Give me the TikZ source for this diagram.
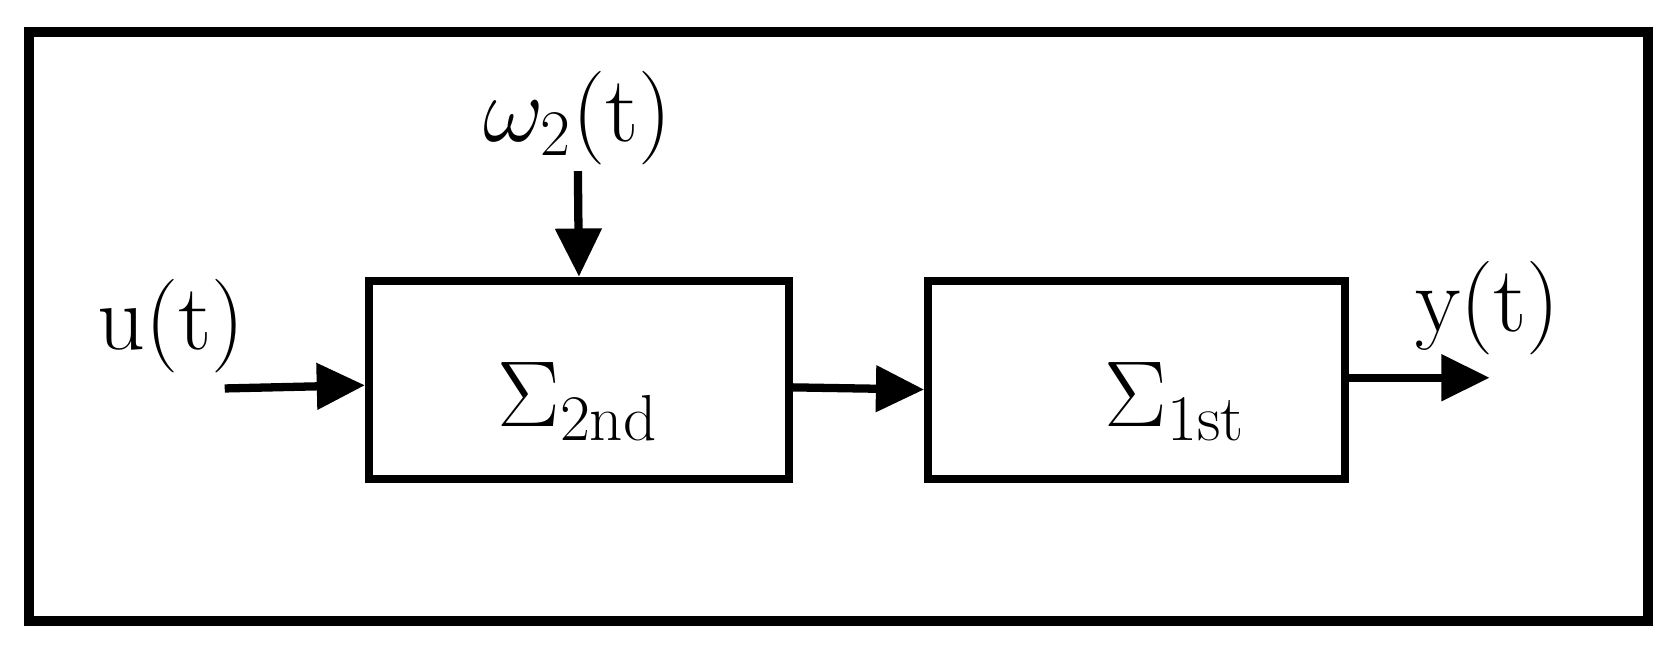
\documentclass[tikz,border=0pt]{standalone}
\usetikzlibrary{arrows.meta}
\begin{document}
\begin{tikzpicture}[x=0.01cm,y=-0.01cm,
  blk/.style={draw,line width=2.2pt,inner sep=0pt},
  arr/.style={line width=2.2pt,-{Triangle[length=0.45cm,width=0.42cm]}},
  lbl/.style={font=\fontsize{23}{26}\selectfont}]
\useasboundingbox (0,0) rectangle (1568,607);
\draw[line width=2.6pt] (27,30) rectangle (1540,580);
\node[blk,minimum width=3.92cm,minimum height=1.85cm] (b1) at (541,355) {};
\node[blk,minimum width=3.89cm,minimum height=1.85cm] (b2) at (1062,355) {};
\node[lbl] at (540,375) {$\Sigma_{\mathrm{2nd}}$};
\node[lbl] at (1098,375) {$\Sigma_{\mathrm{1st}}$};
\node[lbl] (u) at (160,305) {$\mathrm{u(t)}$};
\node[lbl] (w) at (540,110) {$\omega_2\mathrm{(t)}$};
\node[lbl] (y) at (1390,288) {$\mathrm{y(t)}$};
\coordinate (us) at (210,363);
\coordinate (ws) at (540,160);
\coordinate (ye) at (1392,353);
\draw[arr] (us) -- (b1.west |- 0,360);
\draw[arr] (ws) -- (b1.north);
\draw[arr] (b1.east |- 0,362) -- (b2.west |- 0,364);
\draw[arr] (b2.east |- 0,353) -- (ye);
\end{tikzpicture}
\end{document}
